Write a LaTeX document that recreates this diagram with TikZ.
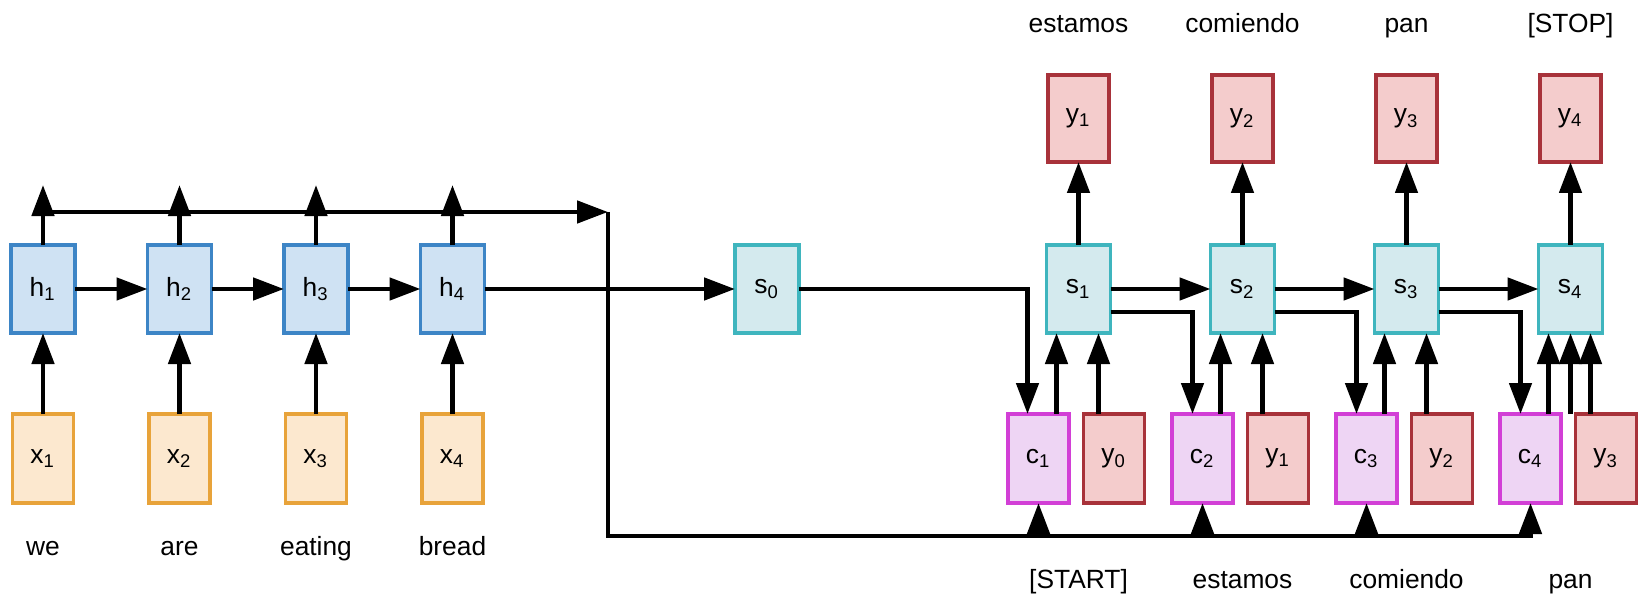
\documentclass[tikz,border=0pt]{standalone}
\usepackage{fontspec}
\setmainfont{Liberation Sans}
\usepackage{xcolor}
\usetikzlibrary{
  arrows.meta,
  positioning,
}

\definecolor{hfill}{HTML}{CFE2F3}
\definecolor{hdraw}{HTML}{3D85C6}
\definecolor{xfill}{HTML}{FCE8CF}
\definecolor{xdraw}{HTML}{E8A33A}
\definecolor{sfill}{HTML}{D4EAEE}
\definecolor{sdraw}{HTML}{3FB5BE}
\definecolor{cfill}{HTML}{EED5F4}
\definecolor{cdraw}{HTML}{D23FD6}
\definecolor{yfill}{HTML}{F4CCCC}
\definecolor{ydraw}{HTML}{A8323A}

\begin{document}
\begin{tikzpicture}[
  >={Triangle[length=3.1mm, width=2.2mm]},
  cell/.style={
    draw, line width=0.9pt, minimum width=0.64cm, minimum height=0.88cm,
    inner sep=0pt, outer sep=0pt, font=\fontsize{7.5}{9}\selectfont,
  },
  hcell/.style={cell, fill=hfill, draw=hdraw},
  xcell/.style={cell, fill=xfill, draw=xdraw, minimum width=0.61cm, minimum height=0.89cm},
  scell/.style={cell, fill=sfill, draw=sdraw},
  ccell/.style={cell, fill=cfill, draw=cdraw, minimum width=0.61cm, minimum height=0.89cm},
  ycell/.style={cell, fill=yfill, draw=ydraw, minimum width=0.61cm, minimum height=0.87cm},
  word/.style={font=\fontsize{7.5}{9}\selectfont, inner sep=0pt,
    text height=7pt, text depth=2pt},
  arr/.style={->, line width=1.35pt},
]
\useasboundingbox (0,0) rectangle (16.42,5.97);

% ── Encoder ─────────────────────────────────────────────────────────
\node[hcell] (h1) at (0.43,3.08) {h\textsubscript{1}};
\node[hcell, right=0.725cm of h1] (h2) {h\textsubscript{2}};
\node[hcell, right=0.725cm of h2] (h3) {h\textsubscript{3}};
\node[hcell, right=0.725cm of h3] (h4) {h\textsubscript{4}};

\foreach \i in {1,...,4}
  \node[xcell, below=0.81cm of h\i] (x\i) {x\textsubscript{\i}};

\node[word, below=2.7mm of x1] (w1) {we};
\node[word, below=2.7mm of x2] (w2) {are};
\node[word, below=2.7mm of x3] (w3) {eating};
\node[word, below=2.7mm of x4] (w4) {bread};

% ── Decoder ─────────────────────────────────────────────────────────
\node[scell, right=2.505cm of h4] (s0) {s\textsubscript{0}};
\node[scell, right=2.475cm of s0] (s1) {s\textsubscript{1}};
\node[scell, right=1.0cm of s1] (s2) {s\textsubscript{2}};
\node[scell, right=1.0cm of s2] (s3) {s\textsubscript{3}};
\node[scell, right=1.0cm of s3] (s4) {s\textsubscript{4}};

\foreach \i in {1,...,4}
  \node[ycell, above=0.83cm of s\i] (yout\i) {y\textsubscript{\i}};

\node[word, above=3.5mm of yout1] (out1) {estamos};
\node[word, above=3.5mm of yout2] (out2) {comiendo};
\node[word, above=3.5mm of yout3] (out3) {pan};
\node[word, above=3.5mm of yout4] (out4) {[STOP]};

\foreach \i/\j in {1/0,2/1,3/2,4/3} {
  \node[ccell, below=0.81cm of s\i, xshift=-4mm] (c\i) {c\textsubscript{\i}};
  \node[ycell, right=0.145cm of c\i, minimum height=0.89cm] (yin\j) {y\textsubscript{\j}};
}

\node[word, anchor=north] (in1) at ([yshift=-6mm]c1.south -| s1) {[START]};
\node[word, anchor=north] (in2) at ([yshift=-6mm]c2.south -| s2) {estamos};
\node[word, anchor=north] (in3) at ([yshift=-6mm]c3.south -| s3) {comiendo};
\node[word, anchor=north] (in4) at ([yshift=-6mm]c4.south -| s4) {pan};

% ── Connections: encoder ────────────────────────────────────────────
\coordinate (corner) at (6.08,3.85);
\coordinate (bus) at (6.08,0.61);
\foreach \i in {1,...,4} {
  \coordinate (up\i) at ([yshift=6mm]h\i.north);
  \draw[arr] (x\i) -- (h\i);
  \draw[arr] (h\i) -- (up\i);
}
\draw[arr] (h1) -- (h2);
\draw[arr] (h2) -- (h3);
\draw[arr] (h3) -- (h4);
\draw[arr] (h4) -- (s0);

% attention bus
\draw[arr] (h1.north |- corner) -- (corner);
\draw[arr] (corner) -- (bus) -| (c4.south);
\foreach \i in {1,2,3}
  \draw[arr] (c\i.south |- bus) -- (c\i.south);

% ── Connections: decoder ────────────────────────────────────────────
\draw[arr] (s0) -| ([xshift=-1.1mm]c1.north);
\draw[arr] (s1) -- (s2);
\draw[arr] (s2) -- (s3);
\draw[arr] (s3) -- (s4);
\foreach \i/\j in {1/2,2/3,3/4}
  \draw[arr] ([yshift=-2.3mm]s\i.east) -| ([xshift=-1mm]c\j.north);

\foreach \i/\j in {1/0,2/1,3/2,4/3} {
  \draw[arr] (yout\i |- s\i.north) -- (yout\i);
  \draw[arr] ([xshift=-2.2mm]s\i.south |- c\i.north) -- ([xshift=-2.2mm]s\i.south);
  \draw[arr] ([xshift=2mm]s\i.south |- yin\j.north) -- ([xshift=2mm]s\i.south);
}
\coordinate (s4in) at (s4.south |- c4.north);
\draw[arr] (s4in) -- (s4);

\end{tikzpicture}
\end{document}
